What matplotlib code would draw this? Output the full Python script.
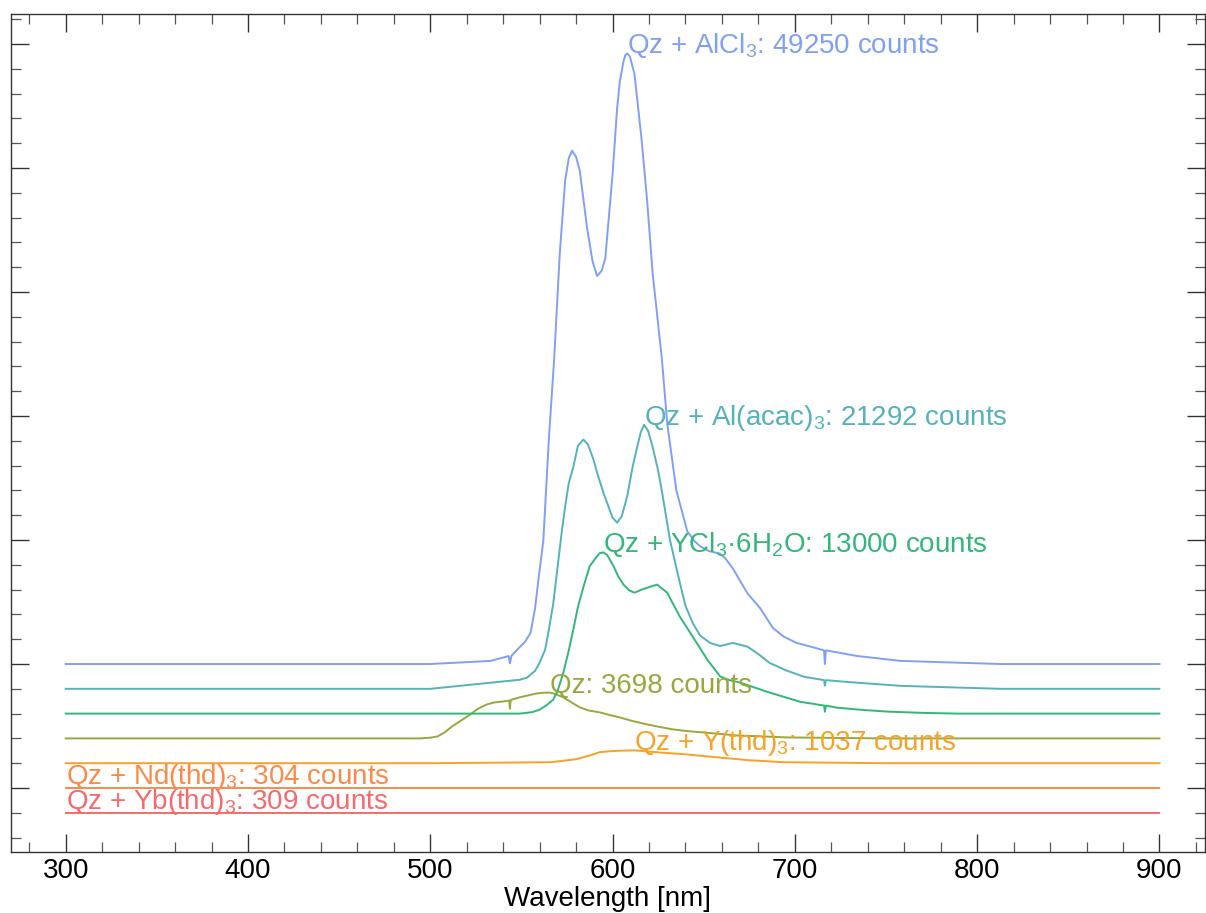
import matplotlib
matplotlib.use("Agg")
import matplotlib.pyplot as plt
from matplotlib.ticker import MultipleLocator, NullFormatter
import numpy as np

plt.rcParams['font.family'] = ['Liberation Sans', 'DejaVu Sans']
plt.rcParams['mathtext.fontset'] = 'custom'
plt.rcParams['mathtext.rm'] = 'Liberation Sans'
plt.rcParams['mathtext.it'] = 'Liberation Sans:italic'
plt.rcParams['mathtext.default'] = 'regular'

# Spectra, bottom to top (counts above each trace's own baseline)
names = ['Qz + Yb(thd)$_3$', 'Qz + Nd(thd)$_3$', 'Qz + Y(thd)$_3$', 'Qz',
         'Qz + YCl$_3$·6H$_2$O', 'Qz + Al(acac)$_3$', 'Qz + AlCl$_3$']
label_counts = [309, 304, 1037, 3698, 13000, 21292, 49250]
colors = ['#f7696c', '#f98a48', '#f7a126', '#97a83e', '#33b67a', '#55b2bb', '#80a0f2']

wl_yb = [300, 900]
ct_yb = [0, 0]

wl_nd = [300, 900]
ct_nd = [0, 0]

wl_yt = [300, 400, 500, 566, 580, 588, 593, 598, 603, 607, 611.8, 616, 621, 630, 639,
         657, 675, 694, 750, 900]
ct_yt = [0, 0, 0, 80, 320, 650, 890, 960, 1000, 1020, 1037, 990, 920, 820, 730,
         480, 240, 80, 0, 0]

wl_qz = [300, 400, 494, 500, 504, 508, 512, 517, 522, 526, 531, 535, 540, 543.3, 543.7,
         544.1, 549, 554, 558.5, 562, 565.7, 569, 573, 577, 582, 587, 593, 598, 604,
         611, 619, 626, 633, 641, 650, 668, 696, 750, 900]
ct_qz = [0, 0, 0, 60, 160, 500, 970, 1450, 1940, 2380, 2740, 2900, 2980, 3050, 2400,
         3100, 3310, 3480, 3630, 3680, 3698, 3560, 3310, 2950, 2500, 2250, 2100, 1900, 1690,
         1400, 1130, 920, 730, 590, 480, 240, 80, 0, 0]

wl_ycl = [300, 400, 500, 549, 556, 560, 564, 567.5, 570, 573, 576, 578.5, 581, 584,
          587.5, 591, 593, 595, 597, 600.5, 603, 606, 609, 612, 616, 619, 622, 624.5,
          627, 630, 633, 637, 644, 652, 659, 664, 670, 677, 685, 694, 703, 716, 716.5,
          717, 723, 737, 751, 770, 790, 900]
ct_ycl = [0, 0, 0, 0, 120, 320, 700, 1130, 1900, 3300, 5100, 6800, 8600, 10200,
          11900, 12600, 12950, 13000, 12800, 11900, 11100, 10400, 9950, 9750, 10000, 10150, 10300, 10400,
          10100, 9750, 8900, 7800, 6200, 4350, 3000, 2700, 2500, 2150, 1750, 1350, 950, 650, 150,
          650, 480, 300, 160, 60, 0, 0]

wl_acac = [300, 400, 500, 549, 553, 557.5, 560, 563, 564.5, 567.5, 569.5, 572, 574, 576,
           578.5, 581, 584, 586.5, 589.5, 592, 595, 598, 600, 602.5, 605, 608, 611, 613.5,
           615.5, 617.3, 619.5, 622, 625, 627, 631.5, 637, 640, 644, 648, 653.5, 659, 666,
           674, 680, 686, 695, 705, 716, 716.5, 717, 728, 758, 813, 900]
ct_acac = [0, 0, 0, 730, 890, 1450, 2100, 3150, 4300, 6900, 9400, 12500, 14700, 16600,
           17900, 19600, 20100, 19700, 18500, 17200, 15800, 14600, 13800, 13400, 13900, 15500, 17900, 19500,
           20700, 21292, 20800, 19500, 17600, 16000, 12000, 8500, 6700, 5300, 4300, 3700, 3450, 3700,
           3400, 2800, 2100, 1500, 970, 700, 250, 700, 560, 240, 0, 0]

wl_alcl = [300, 400, 500, 533, 543, 543.7, 544.5, 548, 552, 555, 557.5, 559.5, 562, 565,
           568, 571, 574, 576, 577.8, 580, 582, 586, 589, 591.5, 594, 596, 600, 602.5,
           604, 606, 607, 608, 609.5, 612, 616, 619, 622, 627, 630, 635, 641, 645, 648,
           653, 659, 662, 666, 674, 681, 688, 694, 701, 710, 716, 716.5, 717, 719, 734,
           758, 813, 900]
ct_alcl = [0, 0, 0, 250, 640, 50, 650, 1200, 1800, 2500, 4500, 7000, 9900, 18000,
           24700, 33000, 39000, 40800, 41400, 40900, 39800, 35200, 32500, 31300, 31700, 32700, 39500, 44800,
           47000, 48600, 49100, 49250, 49000, 47600, 42200, 37300, 31500, 24700, 19400, 14000, 10700, 9900, 9500,
           9100, 8900, 8500, 7700, 5700, 4500, 2900, 2200, 1700, 1350, 1100, 0, 1100, 1050, 650,
           250, 0, 0]

wavelengths = [wl_yb, wl_nd, wl_yt, wl_qz, wl_ycl, wl_acac, wl_alcl]
counts = [ct_yb, ct_nd, ct_yt, ct_qz, ct_ycl, ct_acac, ct_alcl]

step = 2000  # vertical offset between traces

fig = plt.figure(figsize=(12.06, 9.13), dpi=100)
ax = fig.add_axes([11 / 1206, 1 - 852 / 913, 1194 / 1206, 838 / 913])

for i, (wl, ct, name, lc, col) in enumerate(zip(wavelengths, counts, names, label_counts, colors)):
    off = (i - 1) * step
    wl = np.array(wl)
    ct = np.array(ct)
    ax.plot(wl, ct + off, color=col, linewidth=1.4)
    peak_wl = wl[np.argmax(ct)]
    ax.text(peak_wl, lc + off, f'{name}: {lc} counts', color=col, fontsize=20,
            ha='left', va='baseline')

ax.set_xlim(270, 925)
ax.set_ylim(-5160, 62420)

ax.xaxis.set_major_locator(MultipleLocator(100))
ax.xaxis.set_minor_locator(MultipleLocator(20))
ax.yaxis.set_major_locator(MultipleLocator(10000))
ax.yaxis.set_minor_locator(MultipleLocator(2000))
ax.yaxis.set_major_formatter(NullFormatter())
ax.set_xticks(np.arange(300, 901, 100))

ax.tick_params(which='both', direction='in', top=True, right=True, color='#333333')
ax.tick_params(which='major', length=13, width=1.0, labelsize=20, pad=4)
ax.tick_params(which='minor', length=7, width=0.9, color='#555555')
for sp in ax.spines.values():
    sp.set_color('#333333')
    sp.set_linewidth(1.0)

ax.set_xlabel('Wavelength [nm]', fontsize=20, labelpad=2)

fig.savefig('out.png', dpi=100)
